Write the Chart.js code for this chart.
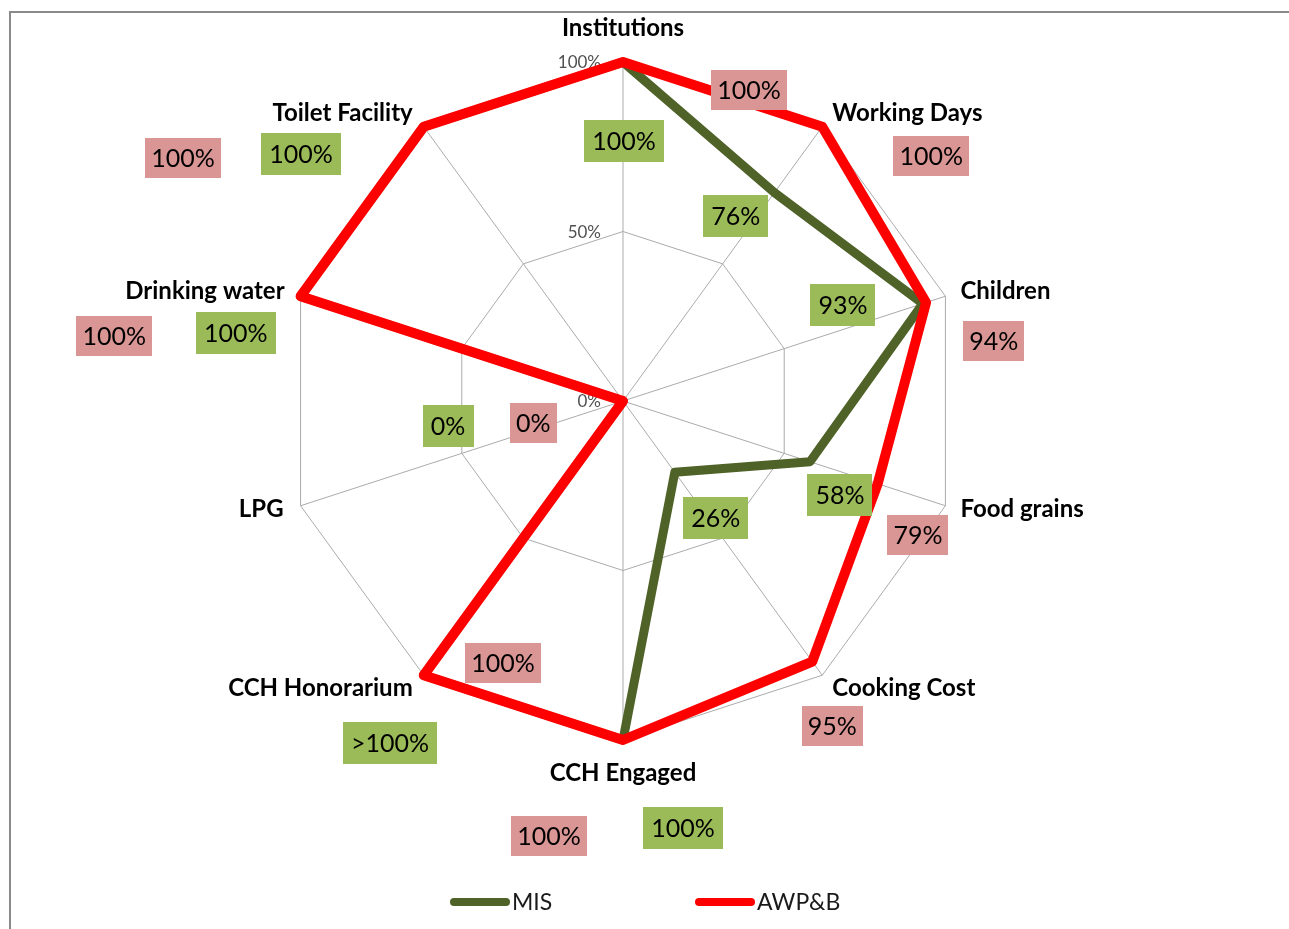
<!DOCTYPE html>
<html>
<head>
<meta charset="utf-8">
<script src="https://cdn.jsdelivr.net/npm/chart.js@4.4.0/dist/chart.umd.min.js"></script>
<style>
  html, body { margin: 0; padding: 0; background: #fff; }
  #wrap { position: relative; width: 1289px; height: 929px; overflow: hidden; }
  #frame {
    position: absolute; left: 9px; top: 11px; width: 1400px; height: 1000px;
    border-top: 2px solid #8a8a8a; border-left: 2px solid #8a8a8a; box-sizing: border-box;
  }
  canvas { position: absolute; left: 0; top: 0; }
</style>
</head>
<body>
<div id="wrap">
  <div id="frame"></div>
  <canvas id="radar" width="1289" height="929"></canvas>
</div>
<script>
// data
const categories = ['Institutions', 'Working Days', 'Children', 'Food grains', 'Cooking Cost',
  'CCH Engaged', 'CCH Honorarium', 'LPG', 'Drinking water', 'Toilet Facility'];
const seriesNames = ['MIS', 'AWP&B'];
const misValues = [100, 76, 93, 58, 26, 100, 100, 0, 100, 100];
const awpValues = [100, 100, 94, 79, 95, 100, 100, 0, 100, 100];
const misLabels = ['100%', '76%', '93%', '58%', '26%', '100%', '>100%', '0%', '100%', '100%'];
const awpLabels = ['100%', '100%', '94%', '79%', '95%', '100%', '100%', '0%', '100%', '100%'];
const tickValues = [0, 50, 100];

// where the value boxes sit, in units of the radar radius from its centre
const misLabelPos = [[0.003, -0.767], [0.333, -0.546], [0.649, -0.283], [0.640, 0.277], [0.274, 0.345],
  [0.177, 1.260], [-0.687, 1.009], [-0.516, 0.074], [-1.142, -0.201], [-0.950, -0.729]];
const awpLabelPos = [[0.372, -0.917], [0.909, -0.723], [1.094, -0.177], [0.870, 0.395], [0.617, 0.959],
  [-0.218, 1.283], [-0.354, 0.773], [-0.265, 0.065], [-1.501, -0.192], [-1.298, -0.717]];
// category label offsets (px) from the 100% vertex of each axis
const catLabelOffset = [[0, -34], [10, -13], [15, -5], [15, 4], [10, 13],
  [0, 33], [-11, 13], [-17, 4], [-16, -5], [-11, -13]];

const GREEN = '#4F6228';
const RED = '#FF0000';

function drawBox(ctx, text, x, y, fill, padX, h) {
  const w = ctx.measureText(text).width + padX * 2;
  ctx.fillStyle = fill;
  ctx.fillRect(Math.round(x - w / 2), Math.round(y - h / 2), Math.round(w), h);
  ctx.fillStyle = '#000';
  ctx.fillText(text, x, y + 1);
}

const overlayPlugin = {
  id: 'overlay',
  beforeDatasetsDraw(chart) {
    const s = chart.scales.r;
    const ctx = chart.ctx;
    const R = s.drawingArea;
    ctx.save();
    ctx.textBaseline = 'middle';

    // tick labels, left of the vertical axis
    ctx.font = '17px Lato';
    ctx.fillStyle = '#505050';
    ctx.textAlign = 'right';
    tickValues.forEach(v => {
      const d = s.getDistanceFromCenterForValue(v);
      ctx.fillText(v + '%', s.xCenter - 22, s.yCenter - d + 1);
    });

    // category labels
    ctx.font = 'bold 24px Lato';
    ctx.fillStyle = '#000';
    categories.forEach((c, i) => {
      const p = s.getPointPosition(i, R);
      const dx = p.x - s.xCenter;
      ctx.textAlign = Math.abs(dx) < 1 ? 'center' : (dx > 0 ? 'left' : 'right');
      ctx.fillText(c, p.x + catLabelOffset[i][0], p.y + catLabelOffset[i][1]);
    });
    ctx.restore();
  },
  afterDatasetsDraw(chart) {
    const s = chart.scales.r;
    const ctx = chart.ctx;
    const R = s.drawingArea;
    ctx.save();
    ctx.textBaseline = 'middle';

    // value boxes
    ctx.font = '25px Lato';
    ctx.textAlign = 'center';
    awpLabels.forEach((t, i) => {
      drawBox(ctx, t, s.xCenter + awpLabelPos[i][0] * R, s.yCenter + awpLabelPos[i][1] * R, '#D99694', 6, 40);
    });
    misLabels.forEach((t, i) => {
      drawBox(ctx, t, s.xCenter + misLabelPos[i][0] * R, s.yCenter + misLabelPos[i][1] * R, '#9BBB59', 8, 42);
    });

    // legend
    const colors = [GREEN, RED];
    const startX = [450, 695];
    const ly = 902;
    ctx.font = '23px Lato';
    ctx.textAlign = 'left';
    ctx.lineCap = 'round';
    ctx.lineWidth = 8;
    seriesNames.forEach((name, i) => {
      ctx.strokeStyle = colors[i];
      ctx.beginPath();
      ctx.moveTo(startX[i] + 4, ly);
      ctx.lineTo(startX[i] + 56, ly);
      ctx.stroke();
      ctx.fillStyle = '#1a1a1a';
      ctx.fillText(name, startX[i] + 62, ly + 1);
    });
    ctx.restore();
  }
};

new Chart(document.getElementById('radar'), {
  type: 'radar',
  data: {
    labels: categories,
    datasets: [
      {
        label: seriesNames[0], data: misValues, borderColor: GREEN, backgroundColor: GREEN,
        borderWidth: 9, fill: false, pointRadius: 0, borderJoinStyle: 'round', order: 1
      },
      {
        label: seriesNames[1], data: awpValues, borderColor: RED, backgroundColor: RED,
        borderWidth: 10, fill: false, pointRadius: 0, borderJoinStyle: 'round', order: 0
      }
    ]
  },
  options: {
    responsive: false,
    animation: false,
    layout: { padding: { left: 284, right: 327, top: 62, bottom: 189 } },
    elements: { line: { tension: 0 } },
    plugins: {
      legend: { display: false },
      tooltip: { enabled: false }
    },
    scales: {
      r: {
        min: 0,
        max: 100,
        ticks: { display: false, stepSize: 50 },
        grid: { color: '#ababab', lineWidth: 1 },
        angleLines: { color: '#ababab', lineWidth: 1 },
        pointLabels: { display: false }
      }
    }
  },
  plugins: [overlayPlugin]
});
</script>
</body>
</html>
